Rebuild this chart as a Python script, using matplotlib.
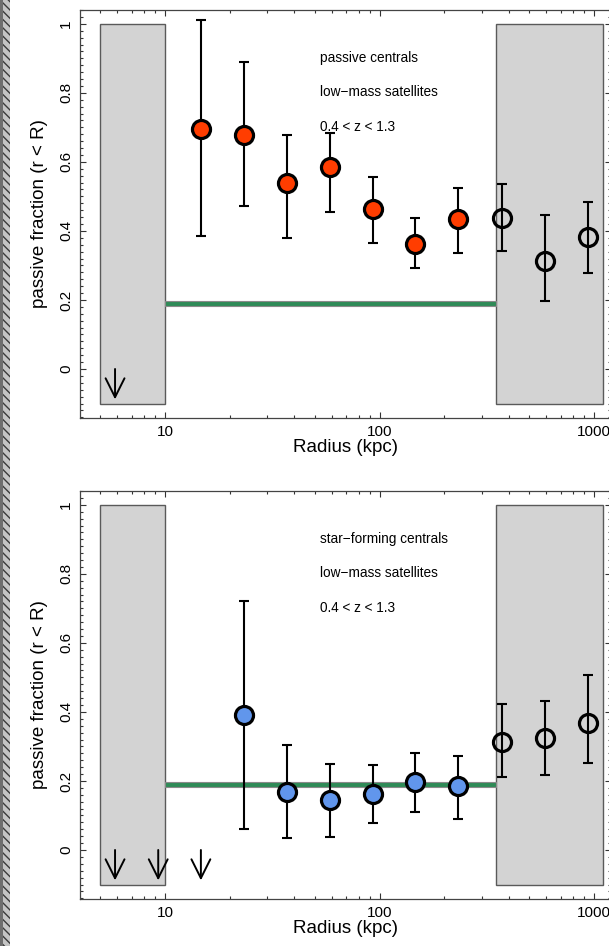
import numpy as np
import matplotlib
matplotlib.use("Agg")
import matplotlib.pyplot as plt
from matplotlib.patches import Rectangle
from matplotlib.ticker import MultipleLocator, FixedLocator, NullFormatter

plt.rcParams["font.family"] = ["Liberation Sans", "DejaVu Sans"]

# radial bins (kpc)
radius = [14.7, 23.3, 37.0, 58.7, 93.0, 147.0, 233.0, 372.0, 590.0, 935.0]

# passive centrals
pc_frac = [0.695, 0.678, 0.538, 0.584, 0.463, 0.363, 0.435, 0.437, 0.314, 0.381]
pc_hi = [1.012, 0.888, 0.678, 0.683, 0.556, 0.436, 0.523, 0.535, 0.445, 0.483]
pc_lo = [0.386, 0.472, 0.380, 0.454, 0.365, 0.292, 0.336, 0.343, 0.197, 0.279]
pc_limits = [5.85]

# star-forming centrals (first bin is an upper limit only)
sf_radius = radius[1:]
sf_frac = [0.391, 0.169, 0.144, 0.162, 0.196, 0.186, 0.314, 0.325, 0.368]
sf_hi = [0.721, 0.304, 0.250, 0.247, 0.281, 0.273, 0.424, 0.432, 0.506]
sf_lo = [0.062, 0.034, 0.038, 0.079, 0.109, 0.089, 0.211, 0.217, 0.251]
sf_limits = [5.85, 9.3, 14.7]

# field value band and excluded radial ranges
band_r = [10, 350]
band_lo, band_hi = 0.182, 0.198
inner_cut = (5.0, 10.0)
outer_cut = (350.0, 1100.0)

W, H = 609, 946
fig = plt.figure(figsize=(W / 100, H / 100), dpi=100)

# hatched strip down the left edge
fig.patches.append(Rectangle((0, 0), 10 / W, 1, transform=fig.transFigure,
                             facecolor="#c4c4c4", edgecolor="#3a3a3a",
                             hatch="\\\\\\\\", lw=0, zorder=-1))
fig.patches.append(Rectangle((0, 0), 3 / W, 1, transform=fig.transFigure,
                             facecolor="#6e6e6e", lw=0, zorder=0))

left = 80 / W
width = (611 - 80) / W
height = 408 / H
panels = [
    (fig.add_axes([left, (H - 418) / H, width, height]), pc_frac, pc_hi, pc_lo,
     radius, "#ff3d00", pc_limits,
     ["passive centrals", "low\u2212mass satellites", "0.4 < z < 1.3"]),
    (fig.add_axes([left, (H - 899) / H, width, height]), sf_frac, sf_hi, sf_lo,
     sf_radius, "#6196ec", sf_limits,
     ["star\u2212forming centrals", "low\u2212mass satellites", "0.4 < z < 1.3"]),
]

for ax, frac, hi, lo, r, col, lims, labels in panels:
    frac = np.array(frac)
    yerr = [frac - np.array(lo), np.array(hi) - frac]
    ax.set_xscale("log")
    ax.set_xlim(4.016, 1200)
    ax.set_ylim(-0.142, 1.04)

    for x0, x1 in (inner_cut, outer_cut):
        ax.add_patch(Rectangle((x0, -0.1), x1 - x0, 1.1, facecolor="#d3d3d3",
                               edgecolor="#5a5a5a", lw=1.0, zorder=1))
    ax.fill_between(band_r, band_lo, band_hi, facecolor="#2e8b57",
                    edgecolor="#8a8a8a", lw=0.8, zorder=2)

    k = len(frac) - 3
    ax.errorbar(r, frac, yerr=yerr, fmt="none", ecolor="black", elinewidth=1.5,
                capsize=3.5, capthick=1.5, zorder=3)
    ax.plot(r[:k], frac[:k], "o", ms=13, mfc=col, mec="black", mew=2.3, zorder=4)
    ax.plot(r[k:], frac[k:], "o", ms=13, mfc="none", mec="black", mew=2.3, zorder=4)

    # upper limits
    for x in lims:
        ax.annotate("", xy=(x, -0.088), xytext=(x, 0.0),
                    arrowprops=dict(arrowstyle="->", lw=1.4, mutation_scale=34,
                                    shrinkA=0, shrinkB=0, color="black"), zorder=5)

    for i, t in enumerate(labels):
        ax.text(52.9, 0.902 - i * 0.1, t, va="center", fontsize=9.8, zorder=6)

    ax.set_yticks([0, 0.2, 0.4, 0.6, 0.8, 1.0])
    ax.yaxis.set_minor_locator(MultipleLocator(0.02))
    ax.set_yticklabels(["0", "0.2", "0.4", "0.6", "0.8", "1"], rotation=90,
                       va="center", fontsize=11)
    ax.xaxis.set_major_locator(FixedLocator([10, 100, 1000]))
    ax.set_xticklabels(["10", "100", "1000"], fontsize=11)
    ax.xaxis.set_minor_formatter(NullFormatter())
    ax.tick_params(which="both", direction="in", top=True, right=True,
                   color="#333333", width=0.8)
    ax.tick_params(which="major", length=4.5, pad=5)
    ax.tick_params(which="minor", length=2.2)
    for s in ax.spines.values():
        s.set_color("#444444")
        s.set_linewidth(0.9)

    ax.set_xlabel("Radius (kpc)", fontsize=13.5, labelpad=0)
    ax.set_ylabel("passive fraction (r < R)", fontsize=13.5, labelpad=8)

fig.savefig("out.png", dpi=100)
